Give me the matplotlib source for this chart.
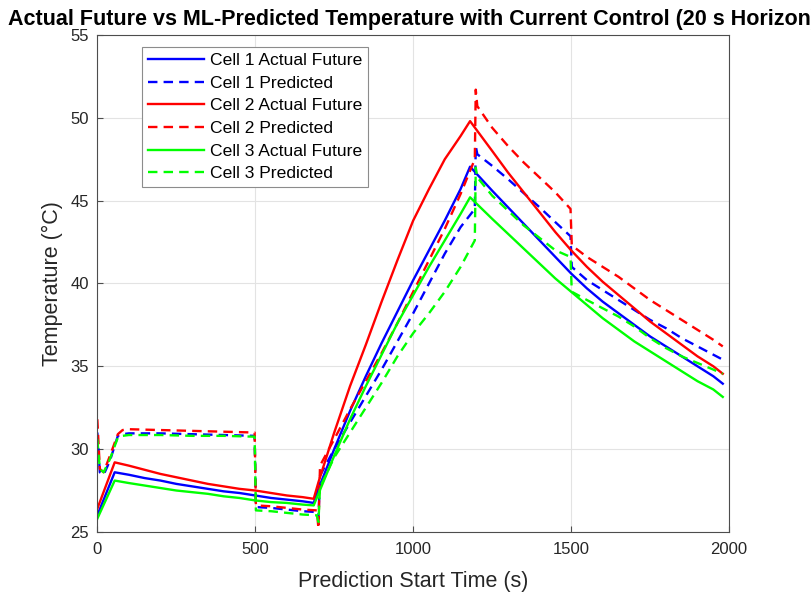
import matplotlib
matplotlib.use("Agg")
import matplotlib.pyplot as plt

plt.rcParams['font.family'] = ['Liberation Sans', 'DejaVu Sans']

# ---------------- data ----------------
t_actual = [0, 55, 100, 150, 200, 250, 300, 350, 400, 450, 500, 550, 600, 650, 685,
            700, 750, 800, 850, 900, 950, 1000, 1050, 1100, 1150, 1180,
            1250, 1300, 1350, 1400, 1450, 1500, 1550, 1600, 1650, 1700, 1750,
            1800, 1850, 1900, 1950, 1980]

cell1_actual = [26.0, 28.6, 28.45, 28.25, 28.1, 27.9, 27.75, 27.6, 27.45, 27.35, 27.2, 27.05, 26.95, 26.85, 26.75,
                27.6, 30.0, 32.3, 34.4, 36.4, 38.3, 40.2, 42.0, 43.8, 45.7, 47.05,
                45.6, 44.6, 43.6, 42.6, 41.6, 40.6, 39.7, 38.9, 38.2, 37.5, 36.8,
                36.2, 35.6, 35.0, 34.4, 33.95]

cell2_actual = [26.4, 29.2, 29.0, 28.75, 28.5, 28.3, 28.1, 27.9, 27.75, 27.6, 27.5, 27.35, 27.2, 27.1, 27.0,
                28.0, 31.0, 33.8, 36.3, 38.9, 41.4, 43.8, 45.7, 47.5, 48.9, 49.8,
                48.0, 46.7, 45.5, 44.3, 43.1, 42.0, 41.0, 40.1, 39.3, 38.5, 37.7,
                37.0, 36.3, 35.6, 35.0, 34.55]

cell3_actual = [25.8, 28.1, 27.95, 27.8, 27.65, 27.5, 27.4, 27.3, 27.15, 27.05, 26.9, 26.8, 26.75, 26.65, 26.6,
                27.3, 29.6, 31.8, 33.8, 35.7, 37.6, 39.3, 41.0, 42.6, 44.2, 45.2,
                43.9, 43.0, 42.1, 41.2, 40.3, 39.5, 38.7, 37.9, 37.2, 36.5, 35.9,
                35.3, 34.7, 34.1, 33.6, 33.15]

t_pred = [0, 8, 20, 40, 65, 80, 100, 200, 300, 400, 498, 502, 550, 600, 650, 695, 700,
          705, 750, 800, 850, 900, 950, 1000, 1050, 1100, 1150, 1195, 1198, 1203,
          1250, 1300, 1350, 1400, 1450, 1498, 1502, 1550, 1600, 1650, 1700, 1750,
          1800, 1850, 1900, 1950, 1980]

cell1_pred = [31.0, 28.6, 28.45, 29.3, 30.8, 30.9, 30.95, 30.95, 30.9, 30.85, 30.8, 26.5, 26.45, 26.35, 26.25, 26.2, 25.8,
              28.4, 30.0, 31.6, 33.2, 34.8, 36.5, 38.2, 40.0, 41.8, 43.4, 44.5, 48.3, 47.8,
              47.1, 46.3, 45.45, 44.6, 43.7, 42.85, 41.0, 40.2, 39.6, 39.0, 38.4, 37.8,
              37.3, 36.7, 36.2, 35.7, 35.4]

cell2_pred = [31.8, 28.8, 28.6, 29.6, 30.9, 31.15, 31.2, 31.15, 31.1, 31.05, 31.0, 26.6, 26.55, 26.45, 26.35, 26.3, 25.2,
              29.0, 30.6, 32.4, 34.1, 35.8, 37.6, 39.5, 41.4, 43.3, 45.4, 47.5, 51.7, 50.7,
              49.4, 48.3, 47.3, 46.4, 45.5, 44.5, 42.3, 41.6, 41.0, 40.4, 39.7, 39.0,
              38.4, 37.8, 37.2, 36.6, 36.2]

cell3_pred = [30.6, 28.8, 28.6, 29.4, 30.7, 30.8, 30.85, 30.85, 30.8, 30.8, 30.75, 26.3, 26.25, 26.15, 26.05, 26.0, 25.6,
              27.7, 29.5, 31.0, 32.5, 34.0, 35.6, 37.0, 38.2, 39.5, 41.0, 42.6, 47.0, 46.4,
              45.3, 44.4, 43.5, 42.75, 42.0, 41.6, 39.5, 39.0, 38.5, 38.0, 37.4, 36.7,
              36.1, 35.6, 35.2, 34.8, 34.55]

labels = ["Cell 1 Actual Future", "Cell 1 Predicted",
          "Cell 2 Actual Future", "Cell 2 Predicted",
          "Cell 3 Actual Future", "Cell 3 Predicted"]
colors = ["#0000ff", "#ff0000", "#00ff00"]

x_ticks = [0, 500, 1000, 1500, 2000]
y_ticks = [25, 30, 35, 40, 45, 50, 55]

# ---------------- figure ----------------
fig = plt.figure(figsize=(8.11, 5.93), dpi=100)
ax = fig.add_axes([0.12, 0.103, 0.779, 0.838])

dash = (0, (4, 2.6))
actuals = [cell1_actual, cell2_actual, cell3_actual]
preds = [cell1_pred, cell2_pred, cell3_pred]
for i in range(3):
    ax.plot(t_actual, actuals[i], color=colors[i], lw=1.7, label=labels[2 * i])
    ax.plot(t_pred, preds[i], color=colors[i], lw=1.7, ls=dash, label=labels[2 * i + 1])

ax.set_xlim(0, 2000)
ax.set_ylim(25, 55)
ax.set_xticks(x_ticks)
ax.set_yticks(y_ticks)
ax.grid(True, color="#e3e3e3", lw=0.8)
ax.set_axisbelow(True)

edge = "#4d4d4d"
for s in ax.spines.values():
    s.set_color(edge)
    s.set_linewidth(0.8)
ax.tick_params(direction="in", length=4, width=0.8, colors=edge, labelsize=12,
               labelcolor="#262626", top=False, right=False)
ax.tick_params(axis="x", pad=7)
ax.tick_params(axis="y", pad=6)

ax.set_xlabel("Prediction Start Time (s)", fontsize=15.5, color="#262626", labelpad=10)
ax.set_ylabel("Temperature (°C)", fontsize=15.5, color="#262626", labelpad=5)
ax.set_title("Actual Future vs ML-Predicted Temperature with Current Control (20 s Horizon)",
             fontsize=15.5, fontweight="bold", pad=7)

leg = ax.legend(loc="upper left", bbox_to_anchor=(0.071, 0.976), borderaxespad=0,
                fontsize=12.6, frameon=True, fancybox=False, handlelength=3.2,
                handletextpad=0.3, labelspacing=0.42, borderpad=0.35)
leg.get_frame().set_edgecolor("#8c8c8c")
leg.get_frame().set_linewidth(0.8)
leg.get_frame().set_alpha(1)

fig.savefig("out.png", dpi=100)
